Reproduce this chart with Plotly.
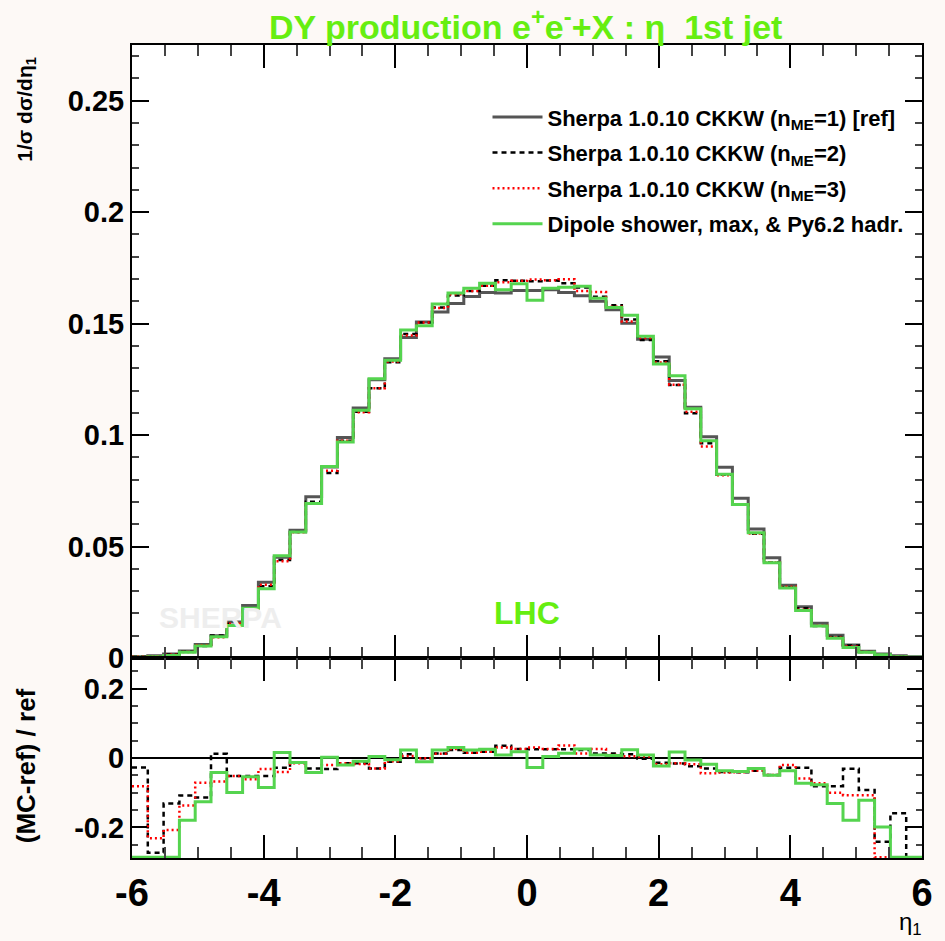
import numpy as np
import plotly.graph_objects as go

# ---------------- data ----------------
x_lo, x_hi, n_bins = -6.0, 6.0, 50

ref = [0.0006, 0.0010, 0.0018, 0.0031, 0.0061, 0.0100, 0.0162, 0.0236, 0.0340, 0.0452,
       0.0573, 0.0723, 0.0857, 0.0989, 0.1121, 0.1248, 0.1342, 0.1438, 0.1507, 0.1552,
       0.1590, 0.1622, 0.1640, 0.1637, 0.1649, 0.1649, 0.1652, 0.1640, 0.1625, 0.1600,
       0.1562, 0.1502, 0.1430, 0.1350, 0.1245, 0.1125, 0.0993, 0.0856, 0.0717, 0.0579,
       0.0450, 0.0326, 0.0230, 0.0156, 0.0102, 0.0058, 0.0030, 0.0018, 0.0010, 0.0006]

ratio_me2 = [-0.027, -0.273, -0.131, -0.108, -0.114, 0.012, -0.052, -0.052, -0.052, -0.028,
             -0.013, -0.030, -0.032, -0.015, -0.015, -0.030, -0.011, 0.011, -0.001, 0.013,
             0.023, 0.015, 0.018, 0.035, 0.026, 0.025, 0.025, 0.025, 0.023, 0.013,
             0.013, 0.011, -0.002, -0.014, -0.016, -0.024, -0.030, -0.040, -0.041, -0.037,
             -0.049, -0.028, -0.028, -0.081, -0.081, -0.031, -0.092, -0.241, -0.159, -0.400]

ratio_me3 = [-0.081, -0.231, -0.207, -0.137, -0.071, -0.068, -0.052, -0.061, -0.032, -0.040,
             -0.015, -0.042, -0.020, -0.015, -0.017, -0.030, -0.009, 0.006, -0.001, 0.012,
             0.026, 0.015, 0.018, 0.030, 0.026, 0.030, 0.026, 0.036, 0.013, 0.026,
             0.009, 0.005, 0.004, -0.018, -0.015, -0.018, -0.044, -0.042, -0.041, -0.036,
             -0.049, -0.020, -0.059, -0.073, -0.100, -0.107, -0.107, -0.400, -0.400, -0.400]

ratio_dip = [-0.400, -0.400, -0.400, -0.179, -0.126, -0.042, -0.099, -0.054, -0.085, 0.016,
             -0.013, -0.042, 0.002, -0.020, -0.009, 0.004, -0.005, 0.023, -0.011, 0.023,
             0.030, 0.023, 0.025, 0.009, 0.018, -0.027, 0.004, 0.014, 0.026, 0.009,
             0.007, 0.024, 0.009, -0.023, 0.017, -0.006, -0.018, -0.037, -0.039, -0.030,
             -0.050, -0.037, -0.073, -0.077, -0.131, -0.179, -0.122, -0.199, -0.400, -0.400]

names = ["Sherpa 1.0.10 CKKW (n<sub>ME</sub>=1) [ref]",
         "Sherpa 1.0.10 CKKW (n<sub>ME</sub>=2)",
         "Sherpa 1.0.10 CKKW (n<sub>ME</sub>=3)",
         "Dipole shower, max, & Py6.2 hadr."]

x_tickvals = [-6, -4, -2, 0, 2, 4, 6]
x_ticktext = ["-6", "-4", "-2", "0", "2", "4", "6"]
y1_tickvals = [0, 0.05, 0.1, 0.15, 0.2, 0.25]
y1_ticktext = ["0", "0.05", "0.1", "0.15", "0.2", "0.25"]
y2_tickvals = [-0.2, 0, 0.2]
y2_ticktext = ["-0.2", "0", "0.2"]

# ---------------- styling ----------------
GREEN_TXT = "#66ee11"
FONT = "Liberation Sans"
BG = "#fdf9f6"
y1_range = [0, 0.275]
y2_range = [-0.288, 0.288]

edges = np.linspace(x_lo, x_hi, n_bins + 1)
ref_a = np.array(ref)
series = [
    (np.zeros(n_bins), dict(color="#555555", width=3)),
    (np.array(ratio_me2), dict(color="black", width=2.5, dash="5px,4px")),
    (np.array(ratio_me3), dict(color="red", width=2.5, dash="2px,3px")),
    (np.array(ratio_dip), dict(color="#55d44f", width=3)),
]

fig = go.Figure()
for i, (r, line) in enumerate(series):
    top = ref_a * (1 + r)
    fig.add_trace(go.Scatter(
        x=edges, y=np.append(top, top[-1]), mode="lines", line=dict(shape="hv", **line),
        name=names[i], legendgroup=f"g{i}", xaxis="x", yaxis="y", showlegend=True))
for i, (r, line) in enumerate(series):
    if i == 0:
        continue
    rc = np.clip(r, y2_range[0] + 0.002, y2_range[1])
    fig.add_trace(go.Scatter(
        x=edges, y=np.append(rc, rc[-1]), mode="lines", line=dict(shape="hv", **line),
        name=names[i], legendgroup=f"g{i}", xaxis="x2", yaxis="y2", showlegend=False))

bold = dict(family=FONT, color="black", weight="bold")
common_x = dict(range=[x_lo, x_hi], showline=True, linecolor="black", linewidth=2,
                mirror="allticks", ticks="inside", tickvals=x_tickvals, ticktext=x_ticktext,
                ticklen=23, tickwidth=1.5, tickcolor="black", showgrid=False, zeroline=False,
                minor=dict(dtick=0.5, tick0=-6, ticks="inside", ticklen=11, tickwidth=1.5,
                           tickcolor="#444444", showgrid=False))
split = 200 / 813

fig.update_layout(
    width=945, height=941, paper_bgcolor=BG, plot_bgcolor="white",
    margin=dict(l=132, r=13, t=45, b=83),
    xaxis=dict(**common_x, anchor="y", domain=[0, 1], showticklabels=False),
    xaxis2=dict(**common_x, anchor="y2", domain=[0, 1], showticklabels=True,
                tickfont=dict(size=38, **bold)),
    yaxis=dict(domain=[split, 1], range=y1_range, showline=True, linecolor="black", linewidth=2,
               mirror="allticks", ticks="inside", tickvals=y1_tickvals, ticktext=y1_ticktext,
               ticklen=17, tickwidth=1.5, tickcolor="black", showgrid=False, zeroline=False,
               tickfont=dict(size=29, **bold),
               minor=dict(dtick=0.01, tick0=0, ticks="inside", ticklen=7, tickwidth=1.5,
                          tickcolor="#444444", showgrid=False)),
    yaxis2=dict(domain=[0, split], range=y2_range, showline=True, linecolor="black", linewidth=2,
                mirror="allticks", ticks="inside", tickvals=y2_tickvals, ticktext=y2_ticktext,
                ticklen=15, tickwidth=1.5, tickcolor="black", showgrid=False,
                zeroline=True, zerolinecolor="black", zerolinewidth=2,
                tickfont=dict(size=29, **bold),
                minor=dict(dtick=0.05, tick0=0, ticks="inside", ticklen=6, tickwidth=1.5,
                           tickcolor="#444444", showgrid=False)),
    legend=dict(x=0.45, y=0.937, xanchor="left", yanchor="top", bgcolor="rgba(0,0,0,0)",
                font=dict(size=22, **bold), traceorder="grouped", tracegroupgap=4,
                itemwidth=50),
    showlegend=True,
)

ann = [
    dict(text="DY production e<sup>+</sup>e<sup>-</sup>+X : η  1st jet", x=0.4975, y=1.025,
         font=dict(size=34, family=FONT, color=GREEN_TXT, weight="bold")),
    dict(text="1/σ dσ/dη<sub>1</sub>", x=-0.134, y=0.9877, yanchor="top", textangle=-90,
         font=dict(size=21, **bold)),
    dict(text="(MC-ref) / ref", x=-0.134, y=split / 2 - 0.01, textangle=-90,
         font=dict(size=26, **bold)),
    dict(text="LHC", x=0.5, y=0.3014, font=dict(size=32, family=FONT, color=GREEN_TXT, weight="bold")),
    dict(text="SHERPA", x=0.1125, y=0.2964, font=dict(size=30, family=FONT, color="#eeeeee", weight="bold")),
    dict(text="η<sub>1</sub>", x=0.985, y=-0.1015, yanchor="bottom",
         font=dict(size=24, family=FONT, color="black")),
]
for a in ann:
    a.update(xref="paper", yref="paper", showarrow=False)
    a.setdefault("xanchor", "center")
    a.setdefault("yanchor", "middle")
fig.update_layout(annotations=ann)

fig.write_html("out.html")
